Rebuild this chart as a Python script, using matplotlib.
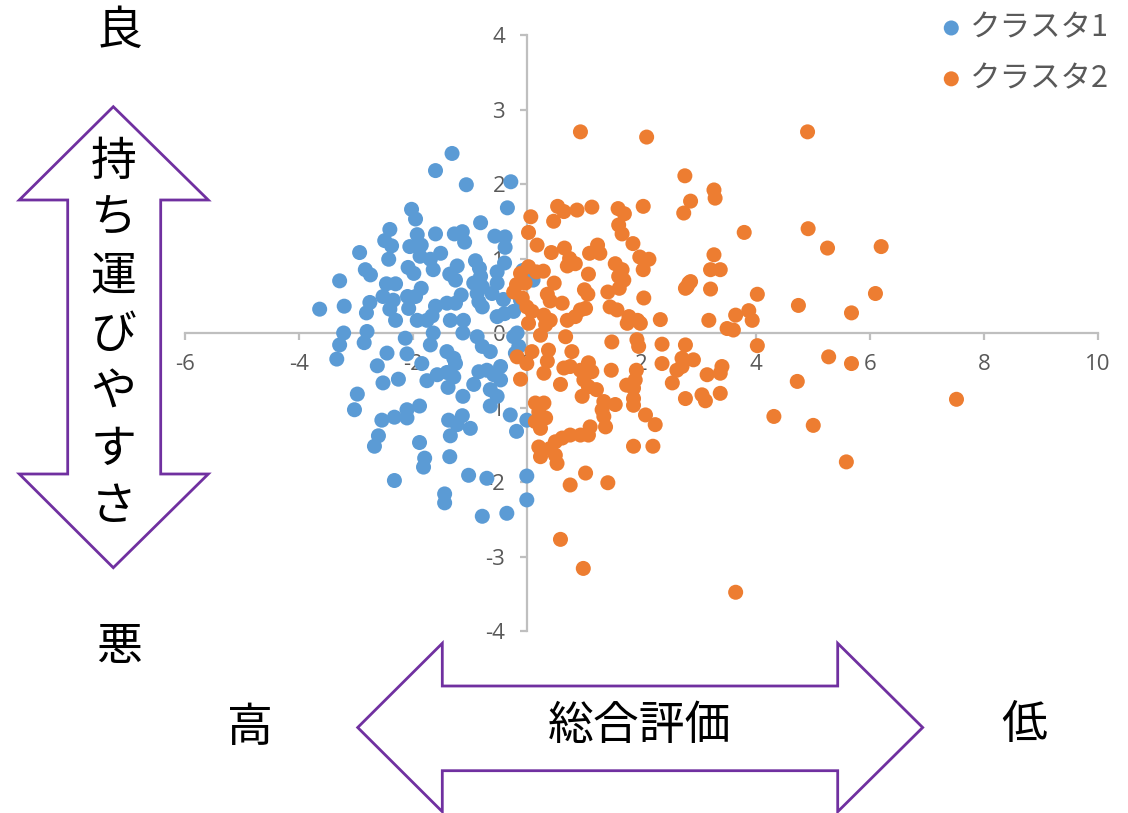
import matplotlib
matplotlib.use("Agg")
import matplotlib.pyplot as plt
from matplotlib.patches import Polygon

# ---- data -------------------------------------------------------------
cluster1_x = [-1.32, -1.61, -1.07, -0.29, -0.35, -2.03, -1.96, -0.82, -2.41, -1.93,
              -1.61, -1.28, -1.14, -1.10, -0.57, -2.50, -2.38, -2.06, -1.86, -2.94,
              -0.39, -2.43, -1.88, -1.52, -1.70, -0.91, -0.40, -2.84, -2.75, -2.09,
              -1.99, -1.65, -1.23, -1.36, -1.26, -0.84, -0.82, -0.53, -3.29, -2.47,
              -2.31, -1.86, -0.94, -0.79, -0.53, -2.53, -2.35, -2.10, -1.96, -1.16,
              -0.88, -0.62, -0.42, -3.64, -3.21, -2.76, -2.82, -2.41, -2.31, -2.08,
              -1.93, -1.61, -1.41, -1.26, -1.67, -1.76, -1.35, -1.12, -0.85, -0.79,
              -0.53, -0.40, -0.24, -3.22, -2.81, -2.14, -1.65, -1.13, -0.88, -0.18,
              -0.08, -3.29, -3.34, -2.86, -2.11, -1.70, -0.79, -0.65, -0.24, -0.15,
              -0.21, -2.46, -2.63, -1.85, -1.41, -1.29, -1.26, -2.53, -2.26, -1.76,
              -1.58, -1.41, -1.29, -1.39, -0.94, -0.85, -0.71, -0.47, -0.59, -0.47,
              -0.65, -0.53, -1.13, -2.98, -3.03, -0.65, -0.30, -0.01, -0.19, -2.55,
              -2.33, -2.11, -2.11, -1.89, -1.38, -1.14, -1.23, -1.00, -1.35, -2.61,
              -2.68, -1.89, -1.80, -1.82, -1.36, -2.33, -1.03, -0.71, -0.01, -1.45,
              -1.45, -0.79, -0.36, -0.01, 0.10, -0.39, -0.12]
cluster1_y = [2.41, 2.18, 1.99, 2.03, 1.68, 1.66, 1.53, 1.48, 1.39, 1.32,
              1.33, 1.33, 1.36, 1.22, 1.30, 1.24, 1.17, 1.16, 1.18, 1.08,
              1.15, 0.99, 1.03, 1.07, 0.99, 0.97, 0.94, 0.85, 0.78, 0.88,
              0.80, 0.85, 0.90, 0.79, 0.71, 0.87, 0.76, 0.82, 0.70, 0.66,
              0.66, 0.60, 0.67, 0.62, 0.67, 0.49, 0.44, 0.49, 0.49, 0.51,
              0.53, 0.53, 0.45, 0.32, 0.36, 0.41, 0.27, 0.32, 0.17, 0.33,
              0.17, 0.36, 0.40, 0.40, 0.23, 0.17, 0.17, 0.17, 0.42, 0.35,
              0.22, 0.26, 0.29, 0.00, 0.02, -0.07, 0.00, 0.00, -0.05, 0.00,
              0.84, -0.16, -0.35, -0.13, -0.28, -0.16, -0.18, -0.25, -0.05, -0.18,
              -0.27, -0.27, -0.44, -0.41, -0.25, -0.34, -0.41, -0.67, -0.62, -0.64,
              -0.56, -0.53, -0.59, -0.73, -0.69, -0.52, -0.50, -0.45, -0.56, -0.63,
              -0.76, -0.85, -0.85, -0.82, -1.03, -0.98, -1.10, -1.17, -1.32, -1.17,
              -1.13, -1.03, -1.14, -0.98, -1.17, -1.11, -1.23, -1.28, -1.38, -1.38,
              -1.52, -1.47, -1.68, -1.80, -1.66, -1.98, -1.91, -1.95, -1.92, -2.16,
              -2.28, -2.46, -2.42, -2.24, 0.71, 1.29, 0.44]

cluster2_x = [0.93, 2.09, 2.76, 2.86, 2.74, 0.06, 0.53, 0.64, 0.46, 0.87,
              1.13, 1.59, 1.70, 2.03, 0.02, 1.60, 1.66, 1.85, 0.17, 0.42,
              0.65, 0.74, 0.84, 0.70, 1.09, 1.23, 1.27, 1.54, 1.97, 2.13,
              2.03, 0.02, 0.28, 0.16, 1.07, 1.66, 1.60, 1.69, -0.19, -0.04,
              0.47, 1.61, 2.83, 2.77, 1.00, 1.06, 1.41, 2.04, -0.09, 0.35,
              0.40, 0.61, -0.01, 0.08, 0.93, 0.84, 1.02, 1.45, 1.57, 1.78,
              1.93, 2.33, 0.29, 0.40, 0.70, 0.02, 0.32, 1.75, 1.98, 0.23,
              0.67, 1.48, 1.92, 1.95, 2.36, 2.77, -0.18, 0.08, 0.37, 0.78,
              0.35, 0.64, 0.75, 1.07, 0.93, 1.13, 1.47, 1.91, 2.36, 2.71,
              2.62, 2.91, -0.12, 0.29, 0.58, 0.99, 1.07, 1.21, 1.74, 1.89,
              1.86, 2.54, 2.77, 0.96, 1.86, 1.86, 1.54, 1.34, 1.31, 1.34,
              1.37, 1.10, 0.93, 1.07, 0.75, 0.61, 0.49, 0.14, 0.29, 0.20,
              0.32, 0.14, 0.23, 2.07, 2.24, 0.20, 0.40, 0.23, 0.49, 0.52,
              1.86, 2.20, 1.02, 0.75, 1.41, 0.58, 0.98,
              4.91, 3.27, 3.29, 3.80, 4.92, 5.26, 6.20, 3.27, 3.21, 3.38,
              2.86, 2.80, 3.21, 4.03, 4.75, 6.10, 5.68, 3.65, 3.88, 3.94,
              3.18, 3.50, 3.61, 4.03, 5.28, 5.68, 2.71, 3.41, 3.15, 3.38,
              4.73, 3.06, 3.12, 3.38, 7.52, 4.32, 5.01, 5.59, 3.65, -0.12,
              -0.01, -0.24]
cluster2_y = [2.70, 2.63, 2.11, 1.77, 1.61, 1.56, 1.70, 1.63, 1.50, 1.65,
              1.69, 1.67, 1.60, 1.70, 1.35, 1.45, 1.33, 1.20, 1.18, 1.08,
              1.14, 1.00, 0.93, 0.90, 1.07, 1.18, 1.07, 0.93, 1.02, 0.99,
              0.85, 0.89, 0.83, 0.82, 0.79, 0.85, 0.76, 0.71, 0.65, 0.67,
              0.67, 0.60, 0.67, 0.60, 0.58, 0.52, 0.55, 0.47, 0.47, 0.52,
              0.43, 0.40, 0.35, 0.29, 0.31, 0.22, 0.33, 0.35, 0.31, 0.22,
              0.17, 0.18, 0.24, 0.17, 0.17, 0.13, 0.11, 0.13, 0.13, -0.03,
              -0.05, -0.12, -0.09, -0.18, -0.15, -0.16, -0.32, -0.25, -0.23, -0.25,
              -0.38, -0.47, -0.45, -0.40, -0.50, -0.52, -0.50, -0.50, -0.41, -0.34,
              -0.50, -0.36, -0.62, -0.54, -0.69, -0.63, -0.72, -0.76, -0.70, -0.63,
              -0.74, -0.67, -0.88, -0.85, -0.88, -0.97, -0.96, -0.92, -1.03, -1.12,
              -1.26, -1.26, -1.37, -1.37, -1.37, -1.41, -1.46, -0.94, -0.94, -1.06,
              -1.14, -1.19, -1.28, -1.10, -1.23, -1.53, -1.55, -1.66, -1.64, -1.75,
              -1.52, -1.52, -1.88, -2.04, -2.01, -2.77, -3.16,
              2.70, 1.92, 1.81, 1.35, 1.40, 1.14, 1.16, 1.05, 0.85, 0.85,
              0.69, 0.62, 0.59, 0.52, 0.37, 0.53, 0.27, 0.24, 0.30, 0.17,
              0.17, 0.06, 0.04, -0.17, -0.32, -0.41, -0.45, -0.45, -0.56, -0.54,
              -0.65, -0.83, -0.91, -0.81, -0.89, -1.12, -1.24, -1.73, -3.48, 0.80,
              -0.41, 0.55]

series_names = ["クラスタ1", "クラスタ2"]
x_ticks = [-6, -4, -2, 0, 2, 4, 6, 8, 10]
y_ticks = [-4, -3, -2, -1, 0, 1, 2, 3, 4]

vertical_label = "持ち運びやすさ"
horizontal_label = "総合評価"
end_labels = {"good": "良", "bad": "悪", "high": "高", "low": "低"}

# ---- style ------------------------------------------------------------
BLUE = "#5B9BD5"
ORANGE = "#ED7D31"
AXIS_GREY = "#BFBFBF"
TEXT_GREY = "#595959"
PURPLE = "#7030A0"
JP = ["Noto Sans CJK JP", "DejaVu Sans"]

plt.rcParams["axes.unicode_minus"] = False

W, H = 1128, 813
fig = plt.figure(figsize=(W / 100, H / 100), dpi=100)
fig.patch.set_facecolor("white")

# decoration layer in pixel units (origin top-left)
ov = fig.add_axes([0, 0, 1, 1])
ov.set_xlim(0, W)
ov.set_ylim(H, 0)
ov.axis("off")

# scatter axes
ax = fig.add_axes([185 / W, 1 - 631 / H, 913 / W, 596 / H])
ax.set_facecolor("none")
ax.scatter(cluster1_x, cluster1_y, s=117, color=BLUE, edgecolors="none",
           label=series_names[0], zorder=3)
ax.scatter(cluster2_x, cluster2_y, s=117, color=ORANGE, edgecolors="none",
           label=series_names[1], zorder=4)
ax.set_xlim(-6, 10)
ax.set_ylim(-4, 4)

for side in ("top", "right"):
    ax.spines[side].set_visible(False)
for side in ("left", "bottom"):
    ax.spines[side].set_position(("data", 0))
    ax.spines[side].set_color(AXIS_GREY)
    ax.spines[side].set_linewidth(1.6)

ax.set_xticks(x_ticks)
ax.set_yticks(y_ticks)
ax.set_xticklabels([str(v) for v in x_ticks])
ax.set_yticklabels([str(v) for v in y_ticks])
ax.tick_params(direction="out", length=5, width=1.6, color=AXIS_GREY,
               labelsize=16, labelcolor=TEXT_GREY)
ax.tick_params(axis="x", pad=10)
ax.tick_params(axis="y", pad=11)
for lab in ax.get_xticklabels() + ax.get_yticklabels():
    lab.set_fontfamily("Open Sans")

leg = ax.legend(loc="upper left", bbox_to_anchor=(936 / W, 1 - 12 / H),
                bbox_transform=fig.transFigure, frameon=False,
                prop={"family": JP, "size": 22}, handlelength=1.0,
                handletextpad=0.12, borderpad=0, borderaxespad=0,
                labelspacing=0.65, labelcolor=TEXT_GREY)

# ---- double-headed arrows ---------------------------------------------
v_arrow = [(113.3, 106.7), (208.3, 200), (160.7, 200), (160.7, 474),
           (208.3, 474), (113.3, 567.7), (19.3, 474), (67.7, 474),
           (67.7, 200), (19.3, 200)]
h_arrow = [(357.7, 727.5), (442.3, 643.3), (442.3, 686), (837.7, 686),
           (837.7, 643.3), (922.7, 727.5), (837.7, 811.7), (837.7, 770.7),
           (442.3, 770.7), (442.3, 811.7)]
for verts in (v_arrow, h_arrow):
    ov.add_patch(Polygon(verts, closed=True, facecolor="white",
                         edgecolor=PURPLE, linewidth=2.0, joinstyle="miter"))

big = dict(ha="center", va="center", fontsize=33, family=JP, color="black")

# vertical caption, one character per line
for i, ch in enumerate(vertical_label):
    ov.text(113.5, 161.5 + 57.6 * i, ch, **big)

ov.text(640, 726, horizontal_label, **big)
ov.text(119.5, 31, end_labels["good"], **big)
ov.text(119, 647, end_labels["bad"], **big)
ov.text(249.5, 728, end_labels["high"], **big)
ov.text(1024.7, 725, end_labels["low"], **big)

fig.savefig("out.png", dpi=100, facecolor="white")
